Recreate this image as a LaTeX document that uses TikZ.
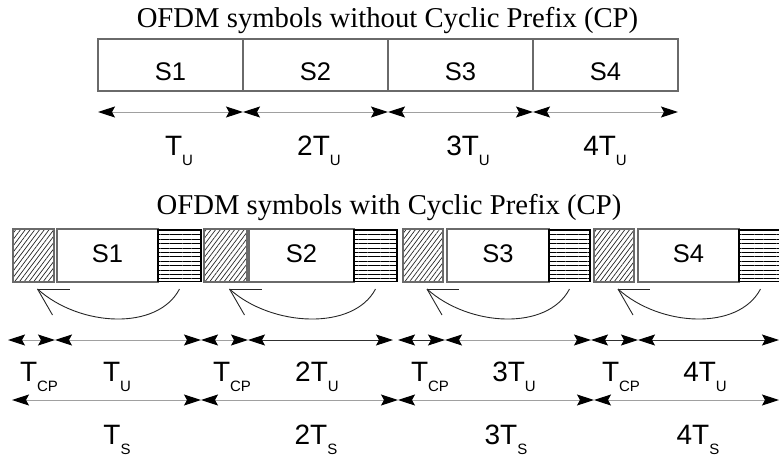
\documentclass[tikz,border=0pt]{standalone}
\usepackage{fontspec}
\setmainfont{Liberation Serif}
\newfontfamily\labfont{Liberation Sans}
\usetikzlibrary{arrows.meta,patterns.meta}

\definecolor{boxgray}{HTML}{6A6A6A}
\definecolor{shaftlight}{HTML}{A0A0A0}
\definecolor{shaftdark}{HTML}{303030}

% subscript of the time labels
\newcommand\Sub[1]{\raisebox{-10pt}{\fontsize{15}{15}\selectfont #1}}

\begin{document}
\begin{tikzpicture}[x=1pt,y=-1pt,
  every node/.style={inner sep=0pt,outer sep=0pt},
  title/.style={font=\fontsize{28.7}{30}\selectfont,anchor=base},
  symfont/.style={font=\labfont\fontsize{25.5}{25.5}\selectfont},
  topsym/.style={symfont,draw=boxgray,line width=1.2pt,minimum width=145pt,
    minimum height=52pt,text height=30pt,text depth=0pt},
  cpbox/.style={draw=boxgray,line width=1.2pt,minimum height=53pt,
    pattern={Lines[angle=53,distance=3.8pt,line width=0.7pt]},pattern color=black!85},
  whitebox/.style={symfont,draw=boxgray,line width=1.2pt,minimum height=53pt,
    text height=13pt,text depth=0pt},
  endbox/.style={draw=black,line width=1.5pt,minimum height=51.5pt,
    pattern={Lines[angle=0,distance=4.4pt,line width=0.6pt]},pattern color=black},
  timelbl/.style={font=\labfont\fontsize{28}{28}\selectfont,anchor=base},
  >={Stealth[length=17pt,width=11pt,inset=3pt,color=black]},
  dimlight/.style={<->,draw=shaftlight,line width=1pt},
  dimdark/.style={<->,draw=shaftdark,line width=0.9pt},
  copyarrow/.style={draw=black!85,line width=0.9pt},
]
\useasboundingbox (0,0) rectangle (779,459);
\clip (0,0) rectangle (779,459);

% ---------- symbols without cyclic prefix ----------
\node[title] (title1) at (387.5,27) {OFDM symbols without Cyclic Prefix (CP)};

\foreach \k/\cx in {1/170.5,2/315.5,3/460.5,4/605.5}
  \node[topsym] (t\k) at (\cx,65) {S\k};

\foreach \k/\x in {0/98,1/243,2/388,3/533,4/678}
  \coordinate (p\k) at (\x,112);
\foreach \a/\b in {0/1,1/2,2/3,3/4}
  \draw[dimlight] (p\a) -- (p\b);

\node[timelbl] (tu1) at (179,155) {T\Sub{U}};
\node[timelbl] (tu2) at (319,155) {2T\Sub{U}};
\node[timelbl] (tu3) at (468,155) {3T\Sub{U}};
\node[timelbl] (tu4) at (605,155) {4T\Sub{U}};

% ---------- symbols with cyclic prefix ----------
\node[title] (title2) at (389,214) {OFDM symbols with Cyclic Prefix (CP)};

% k / prefix left / prefix right / body left / tail left / tail right / arrow tip
\foreach \k/\cl/\cr/\wl/\hl/\hr/\tip in
  {1/13/54/57/158/201/37.5, 2/204/247/249/354/397/229.5,
   3/403/443/447/549/590/427, 4/594/634/638/739/782/618} {
  \pgfmathsetmacro\cw{\cr-\cl}
  \pgfmathsetmacro\cx{(\cr+\cl)/2}
  \pgfmathsetmacro\ww{\hl-\wl}
  \pgfmathsetmacro\wx{(\hl+\wl)/2}
  \pgfmathsetmacro\hw{\hr-\hl}
  \pgfmathsetmacro\hx{(\hr+\hl)/2}
  \node[cpbox,minimum width=\cw pt] (cp\k) at (\cx,255.5) {};
  \node[whitebox,minimum width=\ww pt] (w\k) at (\wx,255.5) {S\k};
  \node[endbox,minimum width=\hw pt] (h\k) at (\hx,255.5) {};
  % the tail of the symbol is copied in front of it
  \coordinate (cs\k) at (\hx,289);
  \coordinate (ct\k) at (\tip,289);
  \draw[copyarrow] (cs\k) .. controls +(-22,42) and +(42,38) .. (ct\k);
  \draw[copyarrow] (ct\k) -- +(32,0);
  \draw[copyarrow] (ct\k) -- +(15,26);
}

% durations: prefix and useful part
\foreach \k/\x in {0/8,1/55,2/201,3/248,4/393,5/398,6/445,7/591,8/638,9/779}
  \coordinate (r\k) at (\x,340);
\draw[dimlight] (r0) -- (r1);
\draw[dimlight] (r1) -- (r2);
\draw[dimlight] (r2) -- (r3);
\draw[dimdark]  (r3) -- (r4);
\draw[dimdark]  (r5) -- (r6);
\draw[dimlight] (r6) -- (r7);
\draw[dimdark]  (r7) -- (r8);
\draw[dimdark]  (r8) -- (r9);

\node[timelbl] (tcp1) at (39,381)  {T\Sub{CP}};
\node[timelbl] (tcu1) at (117,381) {T\Sub{U}};
\node[timelbl] (tcp2) at (232,381) {T\Sub{CP}};
\node[timelbl] (tcu2) at (317,381) {2T\Sub{U}};
\node[timelbl] (tcp3) at (430,381) {T\Sub{CP}};
\node[timelbl] (tcu3) at (514,381) {3T\Sub{U}};
\node[timelbl] (tcp4) at (621,381) {T\Sub{CP}};
\node[timelbl] (tcu4) at (705,381) {4T\Sub{U}};

% durations: whole symbol
\foreach \k/\x in {0/12,1/201,2/398,3/594,4/779}
  \coordinate (q\k) at (\x,400);
\draw[dimlight] (q0) -- (q1);
\draw[dimlight] (q1) -- (q2);
\draw[dimlight] (q2) -- (q3);
\draw[dimlight] (q3) -- (q4);

\node[timelbl] (ts1) at (117,444) {T\Sub{S}};
\node[timelbl] (ts2) at (316,444) {2T\Sub{S}};
\node[timelbl] (ts3) at (506,444) {3T\Sub{S}};
\node[timelbl] (ts4) at (698,444) {4T\Sub{S}};
\end{tikzpicture}
\end{document}
